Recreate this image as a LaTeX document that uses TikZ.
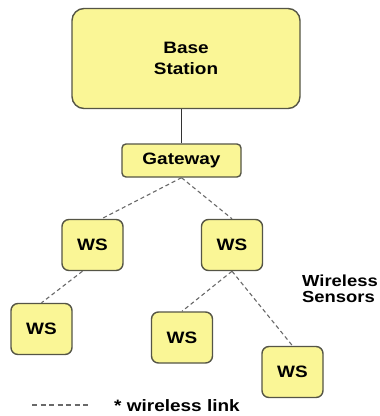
\documentclass[tikz,border=0pt]{standalone}
\usepackage{fontspec}
\setmainfont{Liberation Sans}[FakeStretch=1.15]
\usepackage{tikz}
\usetikzlibrary{positioning}
\definecolor{boxfill}{RGB}{250,246,150}
\definecolor{boxline}{RGB}{85,85,70}
\definecolor{linkgray}{RGB}{105,105,105}
\tikzstyle{station} = [rectangle, rounded corners=12pt, minimum width=228pt, minimum height=100pt, align=center, draw=boxline, line width=1.4pt, fill=boxfill, font=\fontsize{16.5}{21}\selectfont\bfseries]
\tikzstyle{gate} = [rectangle, rounded corners=4pt, minimum width=119pt, minimum height=33pt, text centered, draw=boxline, line width=1.4pt, fill=boxfill, font=\fontsize{16.5}{20}\selectfont\bfseries]
\tikzstyle{sensor} = [rectangle, rounded corners=7pt, minimum width=61pt, minimum height=51pt, text centered, draw=boxline, line width=1.4pt, fill=boxfill, font=\fontsize{16.5}{20}\selectfont\bfseries]
\tikzstyle{wire} = [line width=1.6pt, draw=black!80]
\tikzstyle{link} = [line width=1.1pt, draw=linkgray, dash pattern=on 4pt off 3pt]
\tikzstyle{legend} = [inner sep=0pt, font=\fontsize{16}{16.5}\selectfont\bfseries]

\begin{document}
\begin{tikzpicture}[x=1pt,y=-1pt]
\useasboundingbox[fill=white] (0,0) rectangle (380,416);
\node[station] (base) at (186,58.5) 
          {Base\\Station};
\node[gate] (gate) at (base) [xshift=-4.5pt,yshift=-102pt] 
          {Gateway};
\node[sensor] (wsa) at (gate) [xshift=-89pt,yshift=-84.5pt] 
          {WS};
\node[sensor] (wsb) at (gate) [xshift=50.5pt,yshift=-84.5pt] 
          {WS};
\node[sensor] (wsc) at (wsa) [xshift=-51pt,yshift=-84pt] 
          {WS};
\node[sensor] (wsd) at (wsb) [xshift=-50pt,yshift=-92.5pt] 
          {WS};
\node[sensor] (wse) at (wsb) [xshift=60.5pt,yshift=-127pt] 
          {WS};
\node[legend,anchor=west,align=left] (sensors) at (302,289) 
          {Wireless\\Sensors};
% legend
\coordinate (lega) at (32,405);
\coordinate (legb) at (90,405);
\node[legend,anchor=west,font=\fontsize{16.5}{20}\selectfont\bfseries] (legtxt) at (114,405.5) 
          {* wireless link};
\draw[wire] (gate.north) -- (gate.north |- base.south);
\draw[link] (gate.south) -- ([xshift=9pt]{wsa.north});
\draw[link] (gate.south) -- (wsb.north);
\draw[link] ([xshift=-10pt]{wsa.south}) -- (wsc.north);
\draw[link] (wsb.south) -- (wsd.north);
\draw[link] (wsb.south) -- (wse.north);
\draw[link,dash pattern=on 5pt off 3.5pt] (lega) -- (legb);
\end{tikzpicture}
\end{document}
